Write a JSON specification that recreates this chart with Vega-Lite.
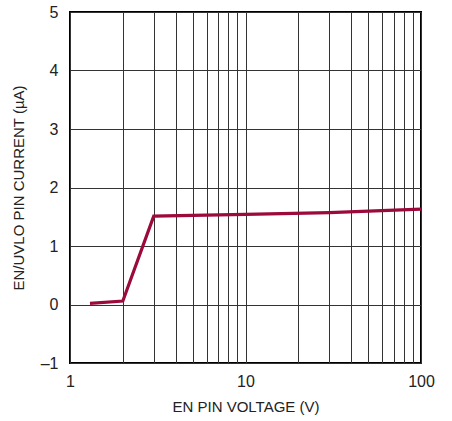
{
  "$schema": "https://vega.github.io/schema/vega-lite/v6.json",
  "width": 351,
  "height": 351,
  "autosize": "none",
  "padding": {"left": 70, "top": 12, "right": 31, "bottom": 58},
  "background": "white",
  "config": {
    "view": {"stroke": "black", "strokeWidth": 2},
    "font": "Liberation Sans",
    "axis": {
      "domain": false,
      "ticks": false,
      "gridColor": "#333333",
      "gridOpacity": 1,
      "gridWidth": 1,
      "labelFont": "Liberation Sans",
      "labelFontSize": 16,
      "labelColor": "#222222",
      "titleFont": "Liberation Sans",
      "titleFontSize": 15,
      "titleFontWeight": "normal",
      "titleColor": "#222222"
    }
  },
  "data": {
    "values": [
      {"v": 1.3, "i": 0.02},
      {"v": 2.0, "i": 0.06},
      {"v": 3.0, "i": 1.51},
      {"v": 10, "i": 1.54},
      {"v": 30, "i": 1.57},
      {"v": 100, "i": 1.63}
    ]
  },
  "mark": {"type": "line", "color": "#9B0A3A", "strokeWidth": 3.2},
  "encoding": {
    "x": {
      "field": "v",
      "type": "quantitative",
      "scale": {"type": "log", "domain": [1, 100], "nice": false},
      "axis": {
        "title": "EN PIN VOLTAGE (V)",
        "values": [1,2,3,4,5,6,7,8,9,10,20,30,40,50,60,70,80,90,100],
        "labelExpr": "indexof([1,10,100], datum.value) >= 0 ? datum.value : ''",
        "labelPadding": 10,
        "titlePadding": 10,
        "labelFlush": false
      }
    },
    "y": {
      "field": "i",
      "type": "quantitative",
      "scale": {"domain": [-1, 5], "nice": false},
      "axis": {
        "title": "EN/UVLO PIN CURRENT (µA)",
        "values": [-1,0,1,2,3,4,5],
        "labelExpr": "datum.value < 0 ? '–' + abs(datum.value) : datum.value",
        "labelPadding": 12,
        "titlePadding": 14,
        "labelFlush": false
      }
    }
  }
}
